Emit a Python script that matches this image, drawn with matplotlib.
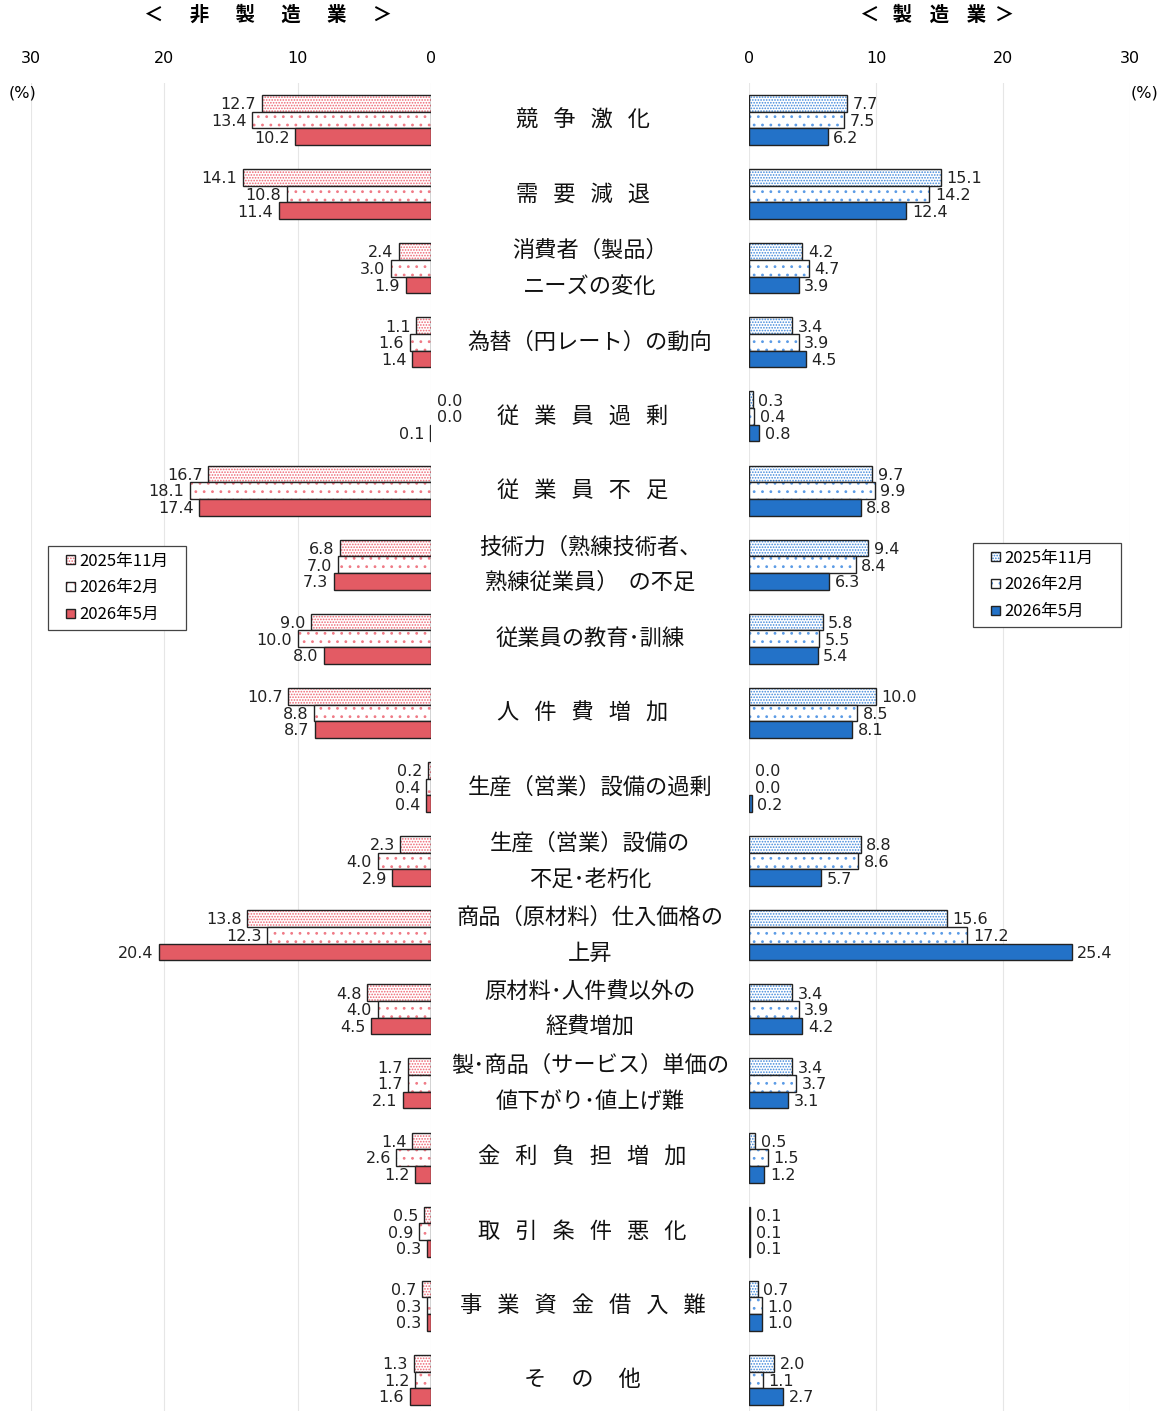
import numpy as np
import matplotlib.pyplot as plt
import matplotlib.transforms as mtransforms
from matplotlib.patches import Patch, Rectangle
from matplotlib.legend_handler import HandlerTuple, HandlerPatch

plt.rcParams['font.family'] = ['Noto Sans CJK JP', 'DejaVu Sans']
plt.rcParams['hatch.linewidth'] = 0.8

# データ
sp = '   '
categories = [
    sp.join('競争激化') + sp, sp.join('需要減退') + sp, '消費者（製品）\nニーズの変化', '為替（円レート）の動向',
    sp.join('従業員過剰') + sp, sp.join('従業員不足') + sp, '技術力（熟練技術者、\n熟練従業員）  の不足',
    '従業員の教育･訓練', sp.join('人件費増加') + sp, '生産（営業）設備の過剰',
    '生産（営業）設備の\n不足･老朽化', '商品（原材料）仕入価格の\n上昇', '原材料･人件費以外の\n経費増加',
    '製･商品（サービス）単価の\n値下がり･値上げ難', sp.join('金利負担増加') + sp, sp.join('取引条件悪化') + sp,
    sp.join('事業資金借入難') + sp, '     '.join('その他') + sp,
]
periods = ['2025年11月', '2026年2月', '2026年5月']

# 非製造業
non_mfg_2025_11 = [12.7, 14.1, 2.4, 1.1, 0.0, 16.7, 6.8, 9.0, 10.7, 0.2, 2.3, 13.8, 4.8, 1.7, 1.4, 0.5, 0.7, 1.3]
non_mfg_2026_02 = [13.4, 10.8, 3.0, 1.6, 0.0, 18.1, 7.0, 10.0, 8.8, 0.4, 4.0, 12.3, 4.0, 1.7, 2.6, 0.9, 0.3, 1.2]
non_mfg_2026_05 = [10.2, 11.4, 1.9, 1.4, 0.1, 17.4, 7.3, 8.0, 8.7, 0.4, 2.9, 20.4, 4.5, 2.1, 1.2, 0.3, 0.3, 1.6]

# 製造業
mfg_2025_11 = [7.7, 15.1, 4.2, 3.4, 0.3, 9.7, 9.4, 5.8, 10.0, 0.0, 8.8, 15.6, 3.4, 3.4, 0.5, 0.1, 0.7, 2.0]
mfg_2026_02 = [7.5, 14.2, 4.7, 3.9, 0.4, 9.9, 8.4, 5.5, 8.5, 0.0, 8.6, 17.2, 3.9, 3.7, 1.5, 0.1, 1.0, 1.1]
mfg_2026_05 = [6.2, 12.4, 3.9, 4.5, 0.8, 8.8, 6.3, 5.4, 8.1, 0.2, 5.7, 25.4, 4.2, 3.1, 1.2, 0.1, 1.0, 2.7]

W, H = 1164, 1411
fig = plt.figure(figsize=(W / 100, H / 100), dpi=100)
top = 1 - 83 / H
ax_l = fig.add_axes([31 / W, 0, 400 / W, top])
ax_r = fig.add_axes([749 / W, 0, 381 / W, top])

y = np.arange(len(categories))
h = 0.225
hatches = ['......', '..', None]

left_cols = ['#EE6472', '#F07A86', '#E35B64']
right_cols = ['#3F87DA', '#5B9BE6', '#2372C8']

num_font = dict(family='DejaVu Sans', fontsize=11.5, color='#222222')


def draw_side(ax, series, cols, side):
    for k, vals in enumerate(series):
        pos = y + (k - 1) * h
        lw = [0 if v == 0 else 1.0 for v in vals]
        if hatches[k]:
            ax.barh(pos, vals, height=h, color='white', edgecolor=cols[k],
                    hatch=hatches[k], linewidth=0)
            ax.barh(pos, vals, height=h, fill=False, edgecolor='#222222', linewidth=lw)
        else:
            ax.barh(pos, vals, height=h, color=cols[k], edgecolor='#222222', linewidth=lw)
        for p, v in zip(pos, vals):
            if side == 'left' and v > 0:
                ax.annotate(f'{v:.1f}', xy=(v, p), xytext=(-4, -1), textcoords='offset points',
                            ha='right', va='center', **num_font)
            else:
                ax.annotate(f'{v:.1f}', xy=(v, p), xytext=(4, -1), textcoords='offset points',
                            ha='left', va='center', **num_font)


draw_side(ax_l, [non_mfg_2025_11, non_mfg_2026_02, non_mfg_2026_05], left_cols, 'left')
draw_side(ax_r, [mfg_2025_11, mfg_2026_02, mfg_2026_05], right_cols, 'right')

ax_l.set_xlim(30, 0)
ax_r.set_xlim(0, 30)
for ax in (ax_l, ax_r):
    ax.set_ylim(17.42, -0.5)
    ax.set_xticks([0, 10, 20, 30])
    ax.xaxis.tick_top()
    ax.tick_params(axis='x', length=0, pad=12, labelsize=11.5)
    for t in ax.get_xticklabels():
        t.set_family('DejaVu Sans')
    ax.set_yticks([])
    for s in ax.spines.values():
        s.set_visible(False)
    ax.grid(axis='x', color='#E6E6E6', linewidth=0.8)
    ax.set_axisbelow(True)

# 中央の項目名
trans = mtransforms.blended_transform_factory(fig.transFigure, ax_l.transData)
for yi, lab in zip(y, categories):
    fig.text(590 / W, yi, lab, transform=trans, ha='center', va='center',
             fontsize=16, linespacing=1.7, color='#111111')

# 見出し
fig.text(268 / W, 1 - 15 / H, '      '.join('＜非製造業＞'), ha='center', va='center',
         fontsize=14, fontweight='bold')
fig.text(937 / W, 1 - 15 / H, '＜   製    造    業  ＞', ha='center', va='center',
         fontsize=14, fontweight='bold')
fig.text(23 / W, 1 - 93 / H, '(%)', ha='center', va='center', fontsize=11.5, family='DejaVu Sans')
fig.text(1145 / W, 1 - 93 / H, '(%)', ha='center', va='center', fontsize=11.5, family='DejaVu Sans')


def square_patch(legend, orig_handle, xdescent, ydescent, width, height, fontsize):
    s = 6.5
    return Rectangle((-xdescent + width - s, -ydescent + (height - s) / 2), s, s)


def make_handles(cols):
    hs = []
    for k in range(3):
        if hatches[k]:
            hs.append((Patch(facecolor='white', edgecolor=cols[k], hatch=hatches[k], linewidth=0),
                       Patch(facecolor='none', edgecolor='#222222', linewidth=1.0)))
        else:
            hs.append(Patch(facecolor=cols[k], edgecolor='#222222', linewidth=1.0))
    return hs


for ax, cols, box in ((ax_l, left_cols, (48, 546, 138, 81)),
                      (ax_r, right_cols, (973, 543, 148, 79))):
    x0, y0, bw, bh = box
    leg = ax.legend(make_handles(cols), periods, loc='upper left',
                    bbox_to_anchor=(x0 / W, 1 - (y0 + bh) / H, bw / W, bh / H),
                    bbox_transform=fig.transFigure, mode='expand', fontsize=12,
                    handlelength=1.2, handleheight=0.7, handletextpad=0.3, labelspacing=0.58,
                    fancybox=False, edgecolor='#444444', framealpha=1,
                    borderpad=0.4, borderaxespad=0,
                    handler_map={tuple: HandlerTuple(ndivide=1, pad=0),
                                 Patch: HandlerPatch(patch_func=square_patch)})
    leg.get_frame().set_linewidth(0.9)

fig.savefig('out.png', dpi=100)
